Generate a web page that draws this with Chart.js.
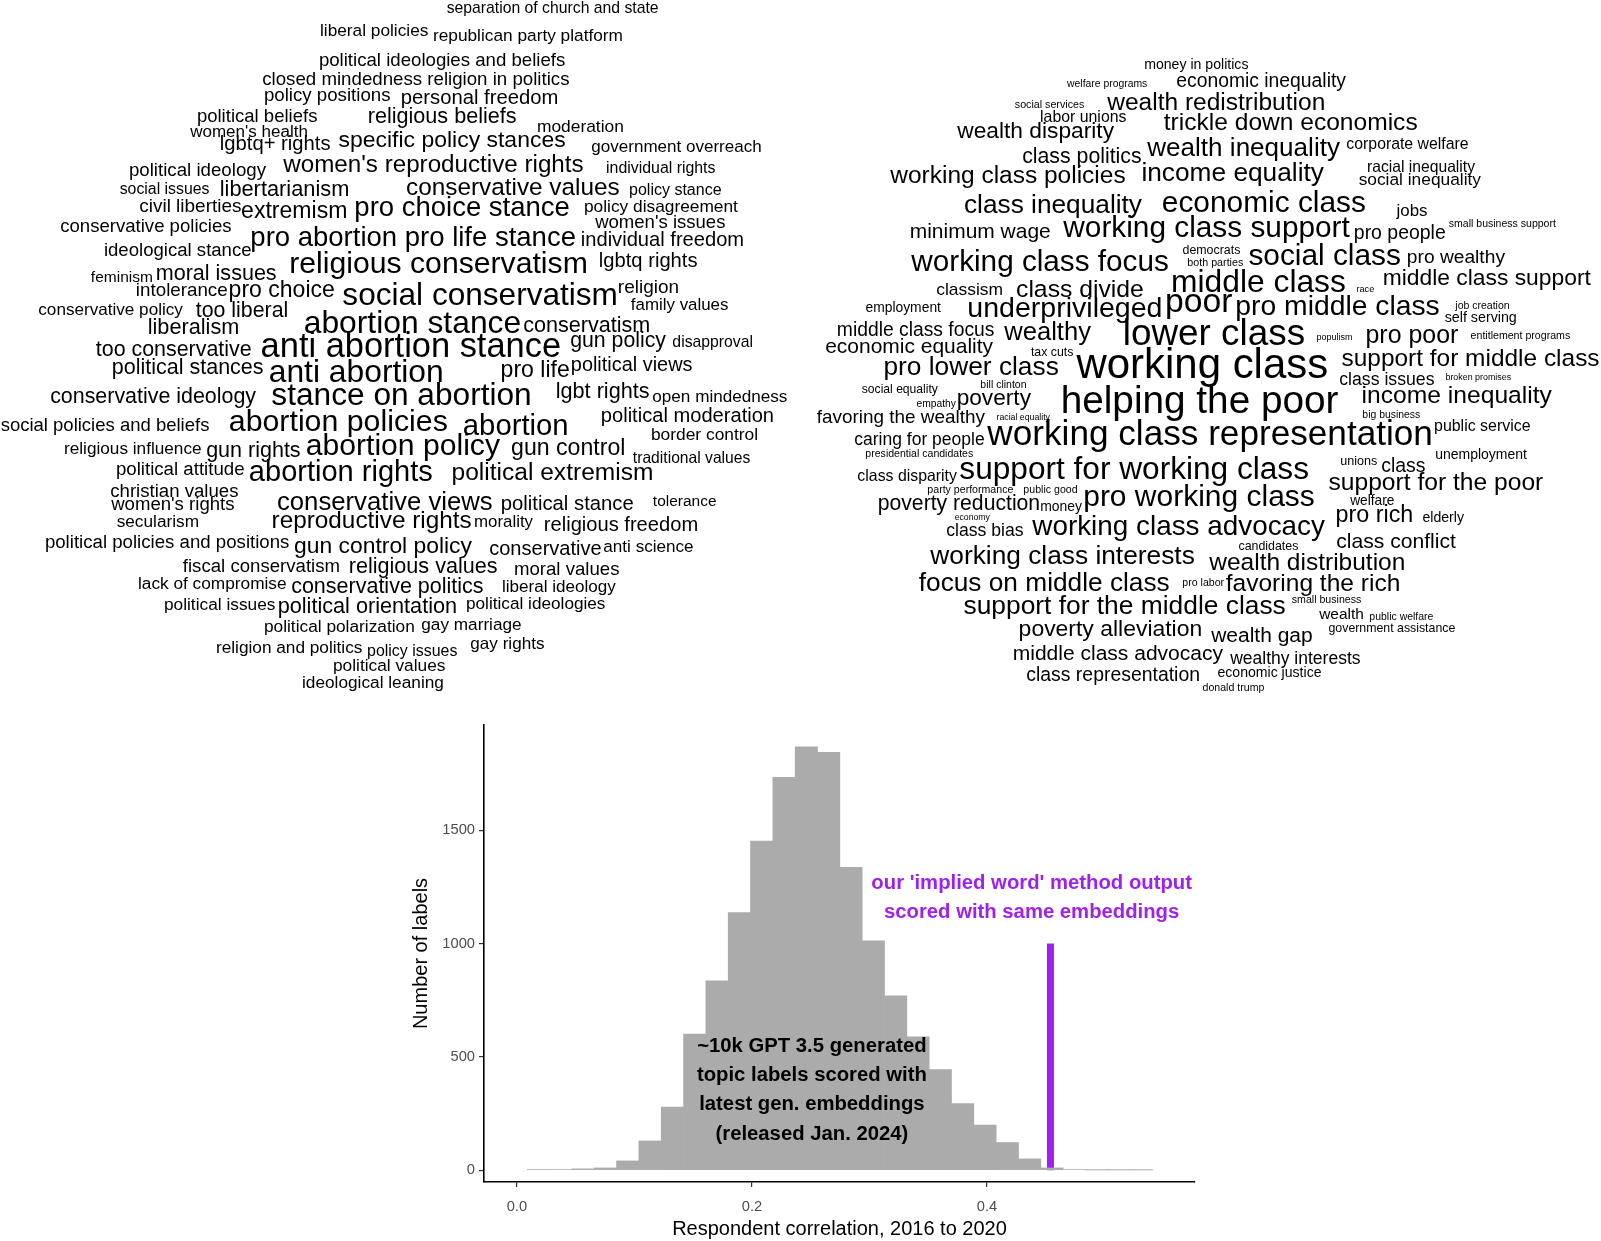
<!DOCTYPE html>
<html>
<head>
<meta charset="utf-8">
<title>Nubes de palabras e histograma</title>
<script src="https://cdn.jsdelivr.net/npm/chart.js@4.4.1/dist/chart.umd.min.js"></script>
<style>
    html, body { margin: 0; padding: 0; background: #ffffff; }
    body { width: 1601px; height: 1241px; position: relative; overflow: hidden; }
    canvas { position: absolute; left: 0; }
    #graficaNubes { top: 0; }
    #graficaHistograma { top: 700px; }
</style>
</head>
<body>
<canvas id="graficaNubes" width="1601" height="700"></canvas>
<canvas id="graficaHistograma" width="1601" height="541"></canvas>
<script>
const FUENTE = "'Liberation Sans', Arial, Helvetica, sans-serif";

// Nube izquierda: [palabra, x inicial, línea base, ancho de la palabra]
const palabrasIzquierda = [
    ['separation of church and state', 447, 13, 211],
    ['liberal policies', 321, 36, 107],
    ['republican party platform', 434, 41, 188],
    ['political ideologies and beliefs', 320, 66, 245],
    ['closed mindedness religion in politics', 263, 85, 306],
    ['policy positions', 265, 101, 125],
    ['personal freedom', 402, 104, 155],
    ['political beliefs', 198, 122, 119],
    ['religious beliefs', 369, 123, 147],
    ['moderation', 538, 132, 85],
    ["women's health", 190, 137, 117],
    ['lgbtq+ rights', 221, 150, 109],
    ['specific policy stances', 339, 147, 226],
    ['government overreach', 592, 152, 169],
    ['political ideology', 130, 176, 136],
    ["women's reproductive rights", 283, 172, 300],
    ['individual rights', 607, 173, 108],
    ['social issues', 120, 194, 89],
    ['libertarianism', 221, 196, 127],
    ['conservative values', 407, 195, 212],
    ['policy stance', 630, 195, 91],
    ['civil liberties', 140, 212, 101],
    ['extremism', 242, 218, 104],
    ['pro choice stance', 356, 216, 213],
    ['policy disagreement', 585, 212, 153],
    ["women's issues", 595, 228, 130],
    ['conservative policies', 61, 232, 170],
    ['pro abortion pro life stance', 252, 246, 323],
    ['individual freedom', 582, 246, 161],
    ['ideological stance', 105, 256, 146],
    ['religious conservatism', 291, 273, 295],
    ['lgbtq rights', 600, 267, 97],
    ['feminism', 91, 282, 61],
    ['moral issues', 157, 280, 119],
    ['religion', 619, 293, 59],
    ['intolerance', 137, 296, 90],
    ['pro choice', 230, 297, 104],
    ['social conservatism', 343, 305, 273],
    ['family values', 631, 310, 97],
    ['conservative policy', 39, 315, 144],
    ['too liberal', 196, 317, 91],
    ['abortion stance', 305, 333, 215],
    ['conservatism', 524, 332, 125],
    ['liberalism', 149, 334, 89],
    ['gun policy', 571, 347, 95],
    ['disapproval', 673, 347, 79],
    ['too conservative', 96, 356, 155],
    ['anti abortion stance', 262, 357, 298],
    ['political stances', 113, 374, 150],
    ['anti abortion', 270, 382, 172],
    ['pro life', 502, 377, 67],
    ['political views', 572, 371, 120],
    ['conservative ideology', 51, 403, 205],
    ['stance on abortion', 272, 405, 258],
    ['lgbt rights', 557, 398, 92],
    ['open mindedness', 653, 402, 134],
    ['social policies and beliefs', 1, 431, 208],
    ['abortion policies', 230, 431, 217],
    ['abortion', 464, 435, 103],
    ['political moderation', 602, 422, 171],
    ['border control', 652, 440, 105],
    ['religious influence', 65, 454, 136],
    ['gun rights', 207, 457, 93],
    ['abortion policy', 307, 455, 193],
    ['gun control', 512, 455, 112],
    ['traditional values', 633, 463, 117],
    ['political attitude', 117, 475, 127],
    ['abortion rights', 250, 481, 182],
    ['political extremism', 453, 480, 199],
    ['christian values', 111, 497, 127],
    ["women's rights", 111, 510, 123],
    ['secularism', 117, 527, 81],
    ['conservative views', 278, 510, 214],
    ['political stance', 502, 510, 131],
    ['tolerance', 653, 506, 63],
    ['reproductive rights', 273, 528, 198],
    ['morality', 475, 527, 58],
    ['religious freedom', 545, 531, 152],
    ['political policies and positions', 46, 548, 243],
    ['gun control policy', 295, 553, 177],
    ['conservative', 490, 555, 111],
    ['anti science', 604, 552, 89],
    ['fiscal conservatism', 183, 572, 156],
    ['religious values', 350, 573, 147],
    ['moral values', 515, 575, 104],
    ['lack of compromise', 139, 589, 147],
    ['conservative politics', 292, 593, 191],
    ['liberal ideology', 503, 592, 113],
    ['political issues', 165, 610, 110],
    ['political orientation', 279, 613, 177],
    ['political ideologies', 467, 609, 138],
    ['political polarization', 265, 632, 149],
    ['gay marriage', 422, 630, 99],
    ['religion and politics', 217, 653, 145],
    ['policy issues', 368, 656, 89],
    ['gay rights', 471, 649, 73],
    ['political values', 334, 671, 111],
    ['ideological leaning', 303, 688, 140]
];

// Nube derecha: [palabra, x inicial, línea base, ancho de la palabra]
const palabrasDerecha = [
    ['money in politics', 1145, 69, 103],
    ['welfare programs', 1067, 87, 80],
    ['economic inequality', 1177, 87, 169],
    ['social services', 1015, 108, 69],
    ['wealth redistribution', 1107, 110, 217],
    ['labor unions', 1041, 122, 85],
    ['trickle down economics', 1164, 130, 253],
    ['wealth disparity', 957, 138, 157],
    ['class politics', 1023, 163, 118],
    ['wealth inequality', 1147, 156, 193],
    ['corporate welfare', 1347, 149, 121],
    ['working class policies', 890, 183, 235],
    ['income equality', 1143, 181, 181],
    ['racial inequality', 1368, 172, 107],
    ['social inequality', 1359, 185, 122],
    ['class inequality', 965, 213, 177],
    ['economic class', 1163, 212, 202],
    ['jobs', 1396, 216, 31],
    ['minimum wage', 911, 238, 139],
    ['working class support', 1063, 237, 287],
    ['pro people', 1355, 239, 90],
    ['small business support', 1449, 227, 107],
    ['working class focus', 911, 271, 257],
    ['democrats', 1183, 254, 57],
    ['both parties', 1188, 266, 55],
    ['social class', 1249, 265, 151],
    ['pro wealthy', 1408, 263, 97],
    ['classism', 937, 295, 65],
    ['class divide', 1017, 297, 126],
    ['middle class', 1173, 292, 172],
    ['race', 1357, 292, 17],
    ['middle class support', 1384, 285, 207],
    ['employment', 866, 312, 75],
    ['underprivileged', 969, 317, 192],
    ['poor', 1167, 312, 65],
    ['pro middle class', 1237, 315, 202],
    ['job creation', 1455, 309, 54],
    ['self serving', 1445, 322, 71],
    ['middle class focus', 838, 336, 156],
    ['wealthy', 1004, 340, 87],
    ['lower class', 1125, 345, 179],
    ['populism', 1317, 340, 35],
    ['pro poor', 1367, 343, 91],
    ['entitlement programs', 1471, 339, 99],
    ['economic equality', 826, 353, 167],
    ['tax cuts', 1031, 356, 42],
    ['pro lower class', 885, 375, 173],
    ['working class', 1076, 378, 251],
    ['support for middle class', 1342, 366, 257],
    ['social equality', 862, 393, 76],
    ['bill clinton', 981, 388, 45],
    ['class issues', 1340, 385, 94],
    ['broken promises', 1446, 380, 65],
    ['empathy', 917, 407, 39],
    ['poverty', 958, 405, 73],
    ['helping the poor', 1063, 413, 275],
    ['income inequality', 1363, 403, 189],
    ['favoring the wealthy', 817, 423, 168],
    ['racial equality', 997, 420, 53],
    ['big business', 1363, 418, 57],
    ['public service', 1435, 431, 95],
    ['caring for people', 855, 445, 129],
    ['working class representation', 987, 445, 444],
    ['presidential candidates', 866, 457, 107],
    ['unemployment', 1436, 459, 91],
    ['class disparity', 858, 481, 99],
    ['support for working class', 960, 479, 348],
    ['unions', 1341, 465, 36],
    ['class', 1382, 472, 43],
    ['support for the poor', 1329, 490, 214],
    ['party performance', 928, 493, 85],
    ['public good', 1024, 493, 53],
    ['poverty reduction', 879, 510, 160],
    ['money', 1041, 511, 41],
    ['pro working class', 1085, 506, 229],
    ['welfare', 1350, 505, 44],
    ['economy', 955, 520, 35],
    ['class bias', 947, 536, 76],
    ['working class advocacy', 1032, 535, 293],
    ['pro rich', 1337, 522, 75],
    ['elderly', 1423, 522, 41],
    ['class conflict', 1337, 548, 119],
    ['candidates', 1239, 550, 59],
    ['working class interests', 930, 564, 264],
    ['wealth distribution', 1209, 570, 195],
    ['pro labor', 1183, 586, 41],
    ['focus on middle class', 919, 591, 250],
    ['favoring the rich', 1226, 591, 173],
    ['support for the middle class', 964, 614, 321],
    ['small business', 1292, 603, 69],
    ['wealth', 1319, 619, 44],
    ['public welfare', 1370, 620, 63],
    ['government assistance', 1329, 632, 126],
    ['poverty alleviation', 1020, 636, 181],
    ['wealth gap', 1211, 642, 101],
    ['middle class advocacy', 1014, 660, 209],
    ['wealthy interests', 1230, 664, 130],
    ['class representation', 1027, 681, 172],
    ['economic justice', 1218, 677, 103],
    ['donald trump', 1203, 691, 61]
];

// Histograma: centros de clase y número de etiquetas
const centrosClase = [0.0183, 0.0373, 0.0563, 0.0753, 0.0943, 0.1133, 0.1323, 0.1513, 0.1703, 0.1893,
    0.2083, 0.2273, 0.2463, 0.2653, 0.2843, 0.3033, 0.3223, 0.3413, 0.3603, 0.3793,
    0.3983, 0.4173, 0.4363, 0.4553, 0.4743, 0.4933, 0.5123, 0.5313];
const conteos = [2, 3, 6, 10, 41, 129, 279, 600, 835, 1137,
    1452, 1733, 1868, 1843, 1336, 1012, 769, 588, 444, 294,
    199, 122, 50, 10, 3, 1, 1, 1];
const ticksX = [0.0, 0.2, 0.4];
const ticksY = [0, 500, 1000, 1500];

// Resultado del método y anotaciones
const puntajeMetodo = 0.454;
const alturaMetodo = 1000;
const textoGPT = ['~10k GPT 3.5 generated', 'topic labels scored with', 'latest gen. embeddings', '(released Jan. 2024)'];
const posTextoGPT = [0.251, 353];
const textoMetodo = ["our 'implied word' method output", 'scored with same embeddings'];
const posTextoMetodo = [0.438, 1200];

Chart.defaults.font.family = FUENTE;

// Plugin que escribe cada palabra ajustando su tamaño al ancho indicado
const pluginPalabras = {
    id: 'palabras',
    afterDatasetsDraw(chart) {
        const ctx = chart.ctx;
        ctx.save();
        ctx.fillStyle = '#000000';
        ctx.textAlign = 'left';
        ctx.textBaseline = 'alphabetic';
        chart.data.datasets.forEach((dataset, i) => {
            const meta = chart.getDatasetMeta(i);
            meta.data.forEach((punto, j) => {
                const p = dataset.data[j];
                ctx.font = '100px ' + FUENTE;
                const m = ctx.measureText(p.texto);
                const tinta = m.actualBoundingBoxLeft + m.actualBoundingBoxRight;
                const k = p.ancho / tinta;
                ctx.font = (100 * k).toFixed(2) + 'px ' + FUENTE;
                ctx.fillText(p.texto, punto.x + m.actualBoundingBoxLeft * k, punto.y);
            });
        });
        ctx.restore();
    }
};

// Plugin para los textos del histograma
const pluginTextos = {
    id: 'textos',
    afterDatasetsDraw(chart) {
        const ctx = chart.ctx;
        const x = chart.scales.x;
        const y = chart.scales.y;
        function bloque(lineas, pos, color) {
            const cx = x.getPixelForValue(pos[0]);
            const cy = y.getPixelForValue(pos[1]);
            const interlineado = 29.2;
            ctx.fillStyle = color;
            lineas.forEach((linea, i) => {
                ctx.fillText(linea, cx, cy + (i - (lineas.length - 1) / 2) * interlineado);
            });
        }
        ctx.save();
        ctx.font = 'bold 20.3px ' + FUENTE;
        ctx.textAlign = 'center';
        ctx.textBaseline = 'middle';
        bloque(textoGPT, posTextoGPT, '#000000');
        bloque(textoMetodo, posTextoMetodo, '#a020f0');
        ctx.restore();
    }
};

function aPuntos(palabras) {
    return palabras.map(p => ({ x: p[1], y: p[2], texto: p[0], ancho: p[3] }));
}

// Función para inicializar las dos nubes de palabras
function inicializarNubes() {
    const ctxNubes = document.getElementById('graficaNubes');
    if (!ctxNubes) return;

    new Chart(ctxNubes.getContext('2d'), {
        type: 'scatter',
        data: {
            datasets: [
                { label: 'Political', data: aPuntos(palabrasIzquierda), pointRadius: 0 },
                { label: 'Class', data: aPuntos(palabrasDerecha), pointRadius: 0 }
            ]
        },
        options: {
            responsive: false,
            animation: false,
            events: [],
            layout: { padding: 0 },
            plugins: {
                legend: { display: false },
                tooltip: { enabled: false }
            },
            scales: {
                x: { type: 'linear', min: 0, max: 1601, display: false },
                y: { type: 'linear', min: 0, max: 700, reverse: true, display: false }
            }
        },
        plugins: [pluginPalabras]
    });
}

// Función para inicializar el histograma
function inicializarHistograma() {
    const ctxHist = document.getElementById('graficaHistograma');
    if (!ctxHist) return;

    new Chart(ctxHist.getContext('2d'), {
        type: 'bar',
        data: {
            datasets: [{
                    type: 'bar',
                    label: 'GPT 3.5 labels',
                    data: centrosClase.map((c, i) => ({ x: c, y: conteos[i] })),
                    backgroundColor: '#ababab',
                    borderWidth: 0,
                    barPercentage: 1,
                    categoryPercentage: 1
                },
                {
                    type: 'line',
                    label: 'implied word',
                    data: [{ x: puntajeMetodo, y: 0 }, { x: puntajeMetodo, y: alturaMetodo }],
                    borderColor: '#a020f0',
                    borderWidth: 7,
                    borderCapStyle: 'butt',
                    pointRadius: 0
                }
            ]
        },
        options: {
            responsive: false,
            animation: false,
            events: [],
            layout: { padding: { left: 405, right: 406, top: 25, bottom: 0 } },
            plugins: {
                legend: { display: false },
                tooltip: { enabled: false }
            },
            scales: {
                x: {
                    type: 'linear',
                    min: -0.028,
                    max: 0.577,
                    offset: false,
                    afterBuildTicks: s => { s.ticks = ticksX.map(v => ({ value: v })); },
                    afterFit: s => { s.height = 59; },
                    ticks: {
                        callback: v => v.toFixed(1),
                        color: '#4d4d4d',
                        font: { size: 14.7 },
                        padding: 11,
                        maxRotation: 0,
                        autoSkip: false
                    },
                    grid: { offset: false, drawOnChartArea: false, tickLength: 5, color: '#333333', lineWidth: 1.2 },
                    border: { color: '#000000', width: 1.6 },
                    title: {
                        display: true,
                        text: 'Respondent correlation, 2016 to 2020',
                        color: '#000000',
                        font: { size: 20 },
                        padding: { top: 0, bottom: 0 }
                    }
                },
                y: {
                    type: 'linear',
                    min: -52,
                    max: 1964,
                    afterBuildTicks: s => { s.ticks = ticksY.map(v => ({ value: v })); },
                    afterFit: s => { s.width = 79; },
                    ticks: {
                        callback: v => String(v),
                        color: '#4d4d4d',
                        font: { size: 14.7 },
                        padding: 4
                    },
                    grid: { drawOnChartArea: false, tickLength: 5, color: '#333333', lineWidth: 1.2 },
                    border: { color: '#000000', width: 1.6 },
                    title: {
                        display: true,
                        text: 'Number of labels',
                        color: '#000000',
                        font: { size: 20 },
                        padding: { top: 4, bottom: 0 }
                    }
                }
            }
        },
        plugins: [pluginTextos]
    });
}

// Inicializar las gráficas cuando el documento esté listo
document.addEventListener('DOMContentLoaded', function() {
    inicializarNubes();
    inicializarHistograma();
});
</script>
</body>
</html>
